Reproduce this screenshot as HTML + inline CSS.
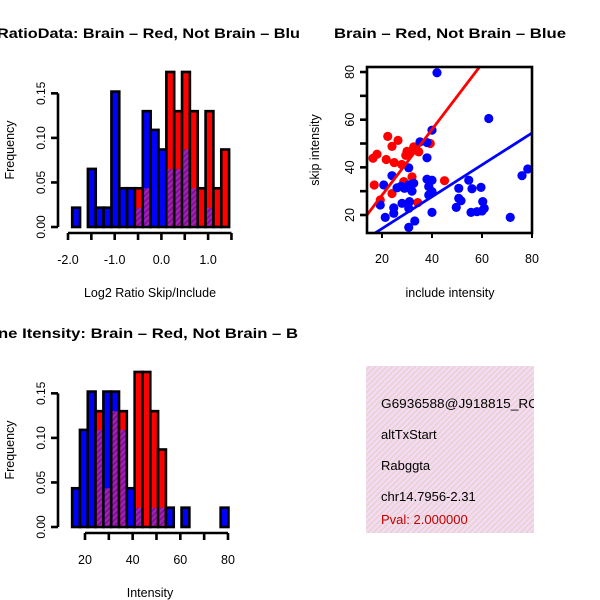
<!DOCTYPE html>
<html><head><meta charset="utf-8">
<style>
html,body{margin:0;padding:0;background:#fff;}
svg{display:block;font-family:"Liberation Sans",sans-serif;}
</style></head>
<body>
<svg id="chart" width="600" height="600" viewBox="0 0 600 600" xmlns="http://www.w3.org/2000/svg">
<defs>
<pattern id="purp" patternUnits="userSpaceOnUse" width="4" height="4" patternTransform="rotate(45)">
<rect width="4" height="4" fill="#a21fb8"/><rect width="1.5" height="4" fill="#78108a"/>
</pattern>
<pattern id="pink" patternUnits="userSpaceOnUse" width="4" height="4" patternTransform="rotate(45)">
<rect width="4" height="4" fill="#f8d8f4"/><rect width="1.3" height="4" fill="#dcd6c8"/>
</pattern>
<clipPath id="c1"><rect x="0" y="0" width="300" height="300"/></clipPath>
<clipPath id="c3"><rect x="0" y="300" width="300" height="300"/></clipPath>
<clipPath id="cs"><rect x="367" y="67" width="165" height="166"/></clipPath>
<clipPath id="cb"><rect x="366" y="366" width="168" height="167"/></clipPath>
</defs>
<g id="g1"></g>
<g id="g2"></g>
<g id="g3"></g>
<g>
<rect x="366" y="366" width="168" height="167" fill="url(#pink)"/>
<g clip-path="url(#cb)" font-size="13">
<text x="381" y="408" textLength="157" lengthAdjust="spacingAndGlyphs">G6936588@J918815_RC</text>
<text x="381" y="439">altTxStart</text>
<text x="381" y="470">Rabggta</text>
<text x="381" y="501">chr14.7956-2.31</text>
<text x="381" y="524" fill="#c00000">Pval: 2.000000</text>
</g>
</g>
</svg>
<script>
// ---- Data ----
const ratioBlue = [0.0217,0,0.0652,0.0217,0.0217,0.152,0.0435,0.0435,0.0217,0.130,0.109,0.087,0.0652,0.0652,0.087,0.0435,0,0.0217,0,0];
const ratioRed  = [0,0,0,0,0,0,0,0,0.0435,0.0435,0,0,0.174,0.130,0.174,0.130,0.0435,0.130,0.0435,0.087];
const ratioStart = -1.91, ratioBin = 0.168;
const ratioTicks = [-2.0,-1.5,-1.0,-0.5,0.0,0.5,1.0,1.5];
const ratioTickLabels = ["-2.0","","-1.0","","0.0","","1.0",""];
const freqTicks = [0,0.05,0.10,0.15];
const freqTickLabels = ["0.00","0.05","0.10","0.15"];

const intBlue = [0.0435,0.109,0.152,0.109,0.152,0.152,0.109,0.0435,0.0217,0,0.0217,0.0217,0.0217,0,0.0217,0,0,0,0,0.0217];
const intRed  = [0,0,0,0.130,0.0435,0.130,0.130,0,0.174,0.174,0.130,0.087,0,0,0,0,0,0,0,0];
const intStart = 14.6, intBin = 3.28;
const intTicks = [20,30,40,50,60,70,80];
const intTickLabels = ["20","","40","","60","","80"];

const redX = [16.4,18,22.3,24,26.4,21.7,24.9,27.9,16.9,19.3,24,28.7,32,31,32.7,34.7,30,39.3,45,34.3,29.5];
const redY = [43.8,45.5,53,48.8,51.3,43.3,42,41.2,32.6,26.3,29,34,36,46,48.6,46.5,46.7,50,34.4,25.2,45];
const blueX = [42,62.7,40,35.2,38,38,30.7,24,20.7,26,30.7,32,38,40,38.7,40,38.7,19.3,21.3,24.7,24.7,28,31,30.7,33.1,30.7,40,50.7,49.7,50.7,51.6,54.7,56,59.6,55.6,58,60,60.3,60.9,71.3,76,78.3,27.6,29,32.7];
const blueY = [79.7,60.5,55.6,50.7,50.4,44,39.8,36.5,32.6,31.4,32.6,30,35,34.6,31.9,29.8,28.4,24.2,19,23,20.7,24.9,25.6,22.8,17.5,14.8,21.1,31.2,23.2,27,26,34.6,31,31.6,21.1,21.4,21.7,25.6,22.8,19,36.5,39.3,32,31.2,33.3];
const redFit = [0.7, 1.38];   // intercept, slope
const blueFit = [0.9, 0.669];
const scTicks = [20,40,60,80];
const scYTicks = [20,30,40,50,60,70,80];
const scYTickLabels = ["20","","40","","60","","80"];

// ---- helpers ----
const NS = "http://www.w3.org/2000/svg";
function mk(tag, attrs, parent){
  const e = document.createElementNS(NS, tag);
  for (const k in attrs) e.setAttribute(k, attrs[k]);
  parent.appendChild(e);
  return e;
}

function histogram(g, blue, red, start, bin, xs, ys, xTicks, xLabels, xAxisY, xTitle, title, clipId, titleX, titleLen, yTop){
  const gc = mk('g', {'clip-path':'url(#'+clipId+')'}, g);
  const base = ys(0);
  for (let i = 0; i < blue.length; i++) {
    const x0 = xs(start + i*bin), x1 = xs(start + (i+1)*bin);
    const b = blue[i], r = red[i];
    const mx = Math.max(b, r), mn = Math.min(b, r);
    if (mx <= 0) continue;
    const col = b >= r ? '#0000ff' : '#ff0000';
    const bar = mk('rect', {x:x0, y:ys(mx), width:x1-x0, height:base-ys(mx), fill:col, stroke:'#000', 'stroke-width':2.6}, gc);
    
    
    if (mn > 0) {
      const ov = mk('rect', {x:x0+1.3, y:ys(mn), width:x1-x0-2.6, height:base-ys(mn)-1.3, fill:'url(#purp)'}, gc);
      
      
    }
  }
  const ya = mk('g', {}, g);
  
  
  mk('line', {x1:58, x2:58, y1:ys(freqTicks[0]), y2:ys(freqTicks[freqTicks.length-1]), stroke:'#000', 'stroke-width':2.6}, ya);
  freqTicks.forEach((t, i) => {
    mk('line', {x1:51, x2:58, y1:ys(t), y2:ys(t), stroke:'#000', 'stroke-width':2.6}, ya);
    const tx = mk('text', {x:0, y:0, 'font-size':12, 'text-anchor':'middle', transform:'translate(45,'+ys(t)+') rotate(-90)'}, ya);
    tx.textContent = freqTickLabels[i];
    
    
  });
  const yt = mk('text', {x:0, y:0, 'font-size':12.5, 'text-anchor':'middle', transform:'translate(14,'+(yTop+90)+') rotate(-90)'}, g);
  yt.textContent = 'Frequency';
  
  
  const xa = mk('g', {}, g);
  
  
  mk('line', {x1:xs(xTicks[0]), x2:xs(xTicks[xTicks.length-1]), y1:xAxisY, y2:xAxisY, stroke:'#000', 'stroke-width':2.6}, xa);
  xTicks.forEach((t, i) => {
    mk('line', {x1:xs(t), x2:xs(t), y1:xAxisY, y2:xAxisY+7, stroke:'#000', 'stroke-width':2.6}, xa);
    if (xLabels[i]) {
      const tx = mk('text', {x:xs(t), y:xAxisY+31, 'font-size':12.5, 'text-anchor':'middle'}, xa);
      tx.textContent = xLabels[i];
      
      
    }
  });
  const xt = mk('text', {x:150, y:xAxisY+64, 'font-size':12.5, 'text-anchor':'middle'}, g);
  xt.textContent = xTitle;
  
  
  const tt = mk('text', {x:titleX, y:yTop-22, 'font-size':14, 'font-weight':'bold', textLength:titleLen, lengthAdjust:'spacingAndGlyphs'}, g);
  tt.textContent = title;
  
  
}

(function(){
  const g = document.getElementById('g1');
  const xs = v => 68 + (v + 2.0) * 46.7;
  const ys = v => 227 - v * 891;
  histogram(g, ratioBlue, ratioRed, ratioStart, ratioBin, xs, ys, ratioTicks, ratioTickLabels, 233,
    'Log2 Ratio Skip/Include', 'RatioData: Brain \u2013 Red, Not Brain \u2013 Blu', 'c1', -3, 303, 60);
})();

(function(){
  const g = document.getElementById('g3');
  const xs = v => 85 + (v - 20) * 2.383;
  const ys = v => 527 - v * 891;
  histogram(g, intBlue, intRed, intStart, intBin, xs, ys, intTicks, intTickLabels, 533,
    'Intensity', 'ne Itensity: Brain \u2013 Red, Not Brain \u2013 B', 'c3', -2, 300, 360);
})();

(function(){
  const g = document.getElementById('g2');
  const xs = v => 382 + (v - 20) * 2.5;
  const ys = v => 215 - (v - 20) * 2.383;
  const gc = mk('g', {'clip-path':'url(#cs)'}, g);
  redX.forEach((x, i) => {
    const c = mk('circle', {cx:xs(x), cy:ys(redY[i]), r:4.6, fill:'#ff0000'}, gc);
    
    
  });
  blueX.forEach((x, i) => {
    const c = mk('circle', {cx:xs(x), cy:ys(blueY[i]), r:4.6, fill:'#0000ff'}, gc);
    
    
  });
  const x0 = 10, x1 = 85;
  const rl = mk('line', {x1:xs(x0), y1:ys(redFit[0]+redFit[1]*x0), x2:xs(x1), y2:ys(redFit[0]+redFit[1]*x1), stroke:'#ff0000', 'stroke-width':2.8}, gc);
  
  
  const bl = mk('line', {x1:xs(x0), y1:ys(blueFit[0]+blueFit[1]*x0), x2:xs(x1), y2:ys(blueFit[0]+blueFit[1]*x1), stroke:'#0000ff', 'stroke-width':2.8}, gc);
  
  
  const box = mk('rect', {x:367, y:67, width:165, height:166, fill:'none', stroke:'#000', 'stroke-width':2.6}, g);
  
  
  scYTicks.forEach((t, i) => {
    mk('line', {x1:360, x2:367, y1:ys(t), y2:ys(t), stroke:'#000', 'stroke-width':2.6}, g);
    if (scYTickLabels[i]) {
      const tx = mk('text', {x:0, y:0, 'font-size':12.5, 'text-anchor':'middle', transform:'translate(354,'+ys(t)+') rotate(-90)'}, g);
      tx.textContent = scYTickLabels[i];
      
      
    }
  });
  scTicks.forEach(t => {
    mk('line', {x1:xs(t), x2:xs(t), y1:233, y2:238, stroke:'#000', 'stroke-width':2}, g);
    const tx = mk('text', {x:xs(t), y:263, 'font-size':12.5, 'text-anchor':'middle'}, g);
    tx.textContent = String(t);
    
    
  });
  const xt = mk('text', {x:450, y:297, 'font-size':12.5, 'text-anchor':'middle'}, g);
  xt.textContent = 'include intensity';
  
  
  const yt = mk('text', {x:0, y:0, 'font-size':12.5, 'text-anchor':'middle', transform:'translate(319,150) rotate(-90)'}, g);
  yt.textContent = 'skip intensity';
  
  
  const tt = mk('text', {x:334, y:38, 'font-size':14, 'font-weight':'bold', textLength:232, lengthAdjust:'spacingAndGlyphs'}, g);
  tt.textContent = 'Brain \u2013 Red, Not Brain \u2013 Blue';
  
  
})();
</script>
</body></html>
